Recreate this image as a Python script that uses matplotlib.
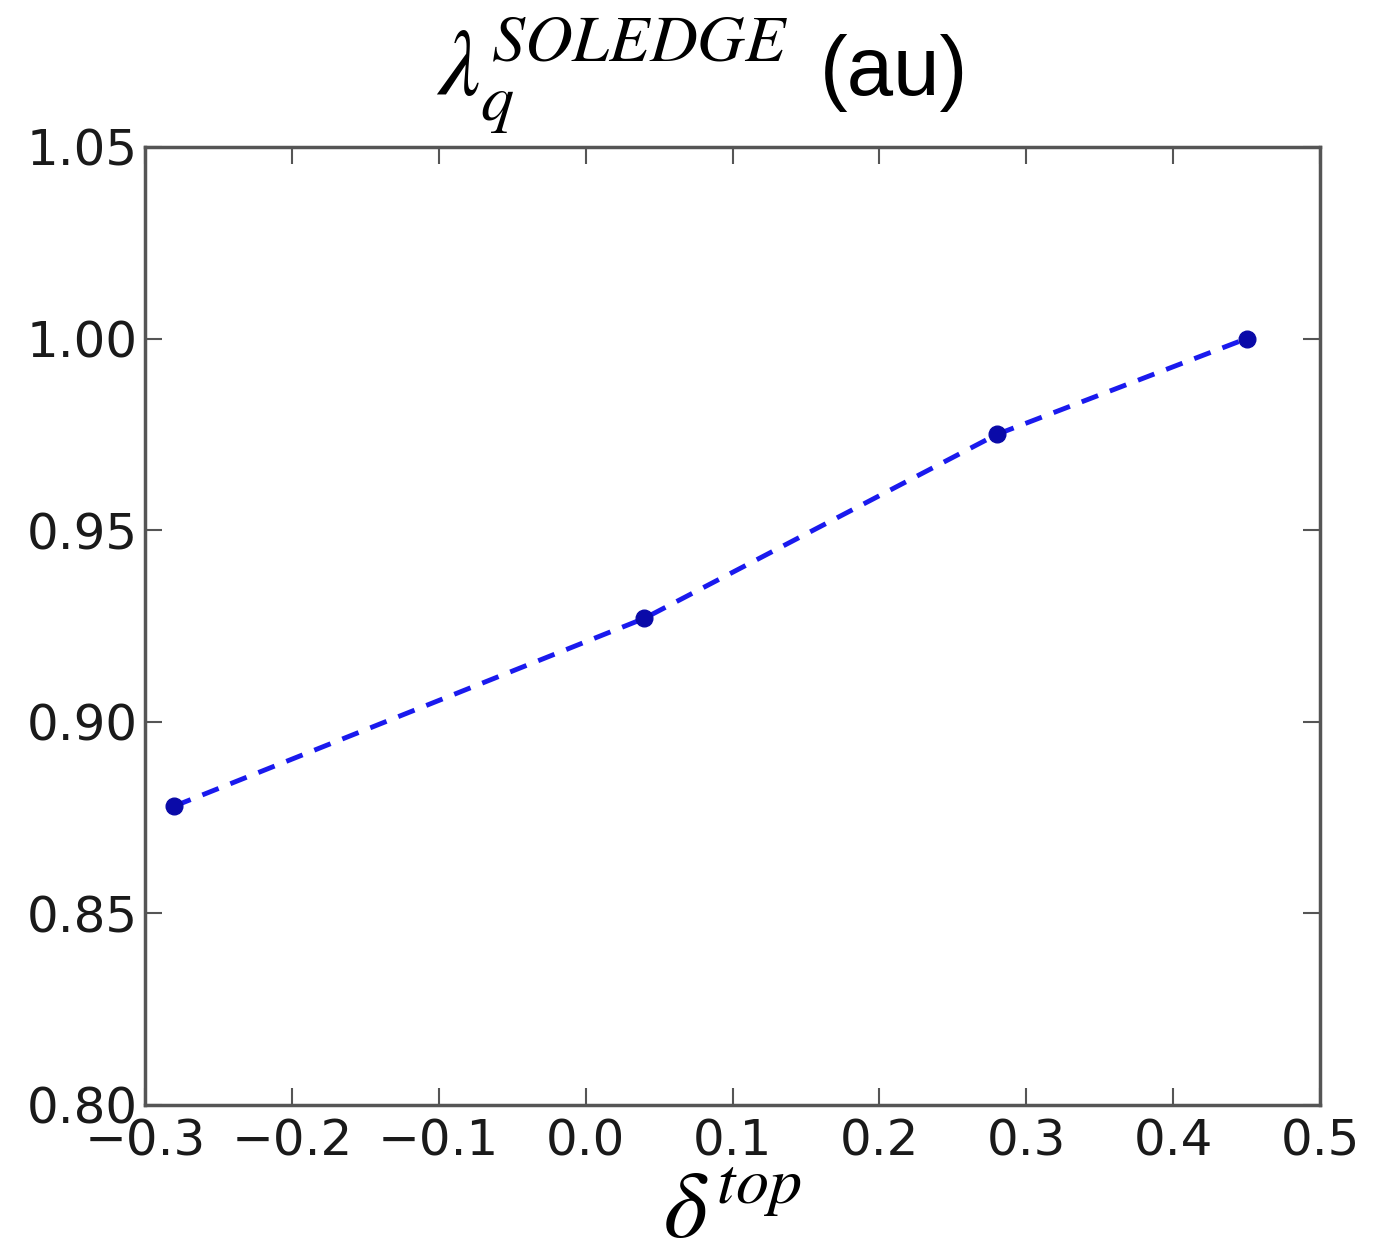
import matplotlib
matplotlib.use("Agg")
import matplotlib.pyplot as plt

delta_top = [-0.28, 0.04, 0.28, 0.45]
lambda_q = [0.878, 0.927, 0.975, 1.0]

xticks = [-0.3, -0.2, -0.1, 0.0, 0.1, 0.2, 0.3, 0.4, 0.5]
yticks = [0.80, 0.85, 0.90, 0.95, 1.00, 1.05]

plt.rcParams['mathtext.fontset'] = 'stix'

fig = plt.figure(figsize=(13.81, 12.6), dpi=100)
ax = fig.add_axes([145 / 1381, 1 - 1105 / 1260, 1175 / 1381, 958 / 1260])

ax.plot(delta_top, lambda_q, linestyle='--', color='#1a1aee', linewidth=3.5,
        dashes=(3.6, 2.6), zorder=2)
ax.plot(delta_top, lambda_q, linestyle='none', marker='o', markersize=12,
        color='#0a0aa8', zorder=3)

ax.set_xlim(-0.3, 0.5)
ax.set_ylim(0.80, 1.05)
ax.set_xticks(xticks)
ax.set_yticks(yticks)
ax.set_xticklabels([f"{v:.1f}".replace('-', '\u2212') for v in xticks])
ax.set_yticklabels([f"{v:.2f}" for v in yticks])

for s in ax.spines.values():
    s.set_color('#555555')
    s.set_linewidth(2.5)
ax.tick_params(direction='in', top=True, right=True, length=12, width=1.5,
               color='#555555', labelsize=36, labelcolor='#1a1a1a')
ax.tick_params(axis='x', pad=9)
ax.tick_params(axis='y', pad=5)

fig.text(0.316, 0.925, r'$\lambda_q^{SOLEDGE}$', fontsize=68, ha='left', va='baseline')
fig.text(0.594, 0.925, '(au)', fontsize=60, ha='left', va='baseline',
         family='Liberation Sans')
ax.set_xlabel(r'$\delta^{top}$', fontsize=68, labelpad=0)

fig.savefig("out.png", dpi=100, facecolor='white')
